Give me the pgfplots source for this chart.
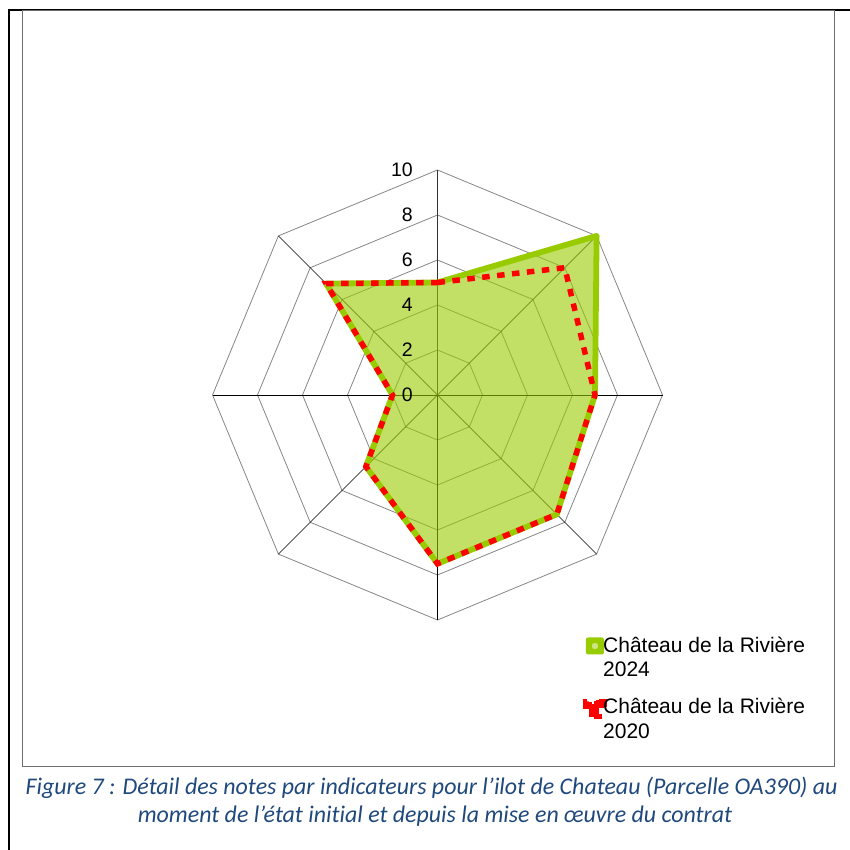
\documentclass[border=0pt]{standalone}
\usepackage{fontspec}
\setmainfont{Liberation Sans}
\newfontfamily\capfont[Ligatures=NoCommon]{Carlito}
\usepackage{pgfplots}
\pgfplotsset{compat=1.18}
\usepgfplotslibrary{polar}
\definecolor{vert}{HTML}{99CC00}
\definecolor{rouge}{HTML}{FF0000}
\definecolor{grille}{RGB}{134,134,134}
\definecolor{cadre}{RGB}{110,110,110}
\definecolor{legende}{HTML}{1F497D}

\begin{document}
\begin{tikzpicture}[x=1pt,y=1pt]
    % picture is 850 x 850, one unit = one pixel of the reference
    \path[use as bounding box] (0,0) rectangle (850,850);
    \draw[line width=2pt] (9,0) -- (9,839.5) -- (850,839.5);
    \draw[cadre, line width=1pt] (22.5,839) rectangle (834.5,83);

    \begin{polaraxis}[
        at={(437.5pt,455pt)},
        anchor=center,
        scale only axis,
        width=450pt,
        height=450pt,
        hide axis,
        clip=false,
        xmin=0, xmax=360,
        ymin=0, ymax=10,
        legend style={
            at={(0.8233,-0.031)},
            anchor=north west,
            draw=none,
            fill=none,
            inner sep=0pt,
            row sep=41pt,
            column sep=0pt,
            nodes={inner sep=1pt},
            font=\fontsize{21}{24.5}\selectfont,
            legend cell align=left,
        },
    ]
        % octagonal rings
        \pgfplotsinvokeforeach{2,4,6,8,10}{
            \addplot[grille, line width=0.8pt, forget plot]
                coordinates {(90,#1) (45,#1) (0,#1) (315,#1) (270,#1) (225,#1) (180,#1) (135,#1)} -- cycle;
        }
        % spokes
        \pgfplotsinvokeforeach{0,45,135,180,225,270,315}{
            \addplot[black, line width=0.6pt, forget plot] coordinates {(#1,0) (#1,10)};
        }
        \addplot[black!80, line width=1.1pt, forget plot] coordinates {(90,0) (90,10)};

        % 2024
        \addplot[
            draw=vert, line width=5.8pt, line join=round,
            fill=vert, fill opacity=0.6, draw opacity=1,
            legend image code/.code={
                \fill[vert, fill opacity=1, draw=none, rounded corners=2pt] (0pt,-10pt) rectangle (18pt,7pt);
                \fill[vert!50!white, fill opacity=1] (8.5pt,-2pt) rectangle (9.5pt,-1pt);
            },
        ] coordinates {
            (90,5) (45,10) (0,7) (315,7.5) (270,7.5) (225,4.5) (180,2) (135,7)
        } -- cycle;
        \addlegendentry{\hspace*{-5pt}\begin{tabular}[t]{@{}l@{}}Château de la Rivière\\2024\end{tabular}}

        % 2020
        \addplot[
            draw=rouge, line width=5.5pt,
            dash pattern=on 7.5pt off 7.5pt,
            legend image code/.code={
                \fill[rouge] (0pt,-2.5pt) rectangle (6pt,4.5pt);
                \fill[rouge] (6pt,-10.5pt) rectangle (13pt,2.5pt);
                \fill[rouge] (13pt,-1.5pt) rectangle (18.5pt,7.5pt);
            },
        ] coordinates {
            (90,5) (45,8) (0,7) (315,7.5) (270,7.5) (225,4.5) (180,2) (135,7)
        } -- cycle;
        \addlegendentry{\hspace*{-5pt}\begin{tabular}[t]{@{}l@{}}Château de la Rivière\\2020\end{tabular}}

        % value labels on the first spoke
        \pgfplotsinvokeforeach{0,2,4,6,8,10}{
            \node[anchor=east, inner sep=0pt, xshift=-24.5pt,
                  font=\fontsize{19.5}{22}\selectfont] at (axis cs:90,#1) {#1};
        }
    \end{polaraxis}

    \node[anchor=base, inner sep=0pt, text=legende,
          font=\capfont\itshape\fontsize{23.9}{28}\selectfont]
        at (431.5,55) {Figure 7 : Détail des notes par indicateurs pour l’ilot de Chateau (Parcelle OA390) au};
    \node[anchor=base, inner sep=0pt, text=legende,
          font=\capfont\itshape\fontsize{23.9}{28}\selectfont]
        at (435,27) {moment de l’état initial et depuis la mise en œuvre du contrat};
\end{tikzpicture}
\end{document}
